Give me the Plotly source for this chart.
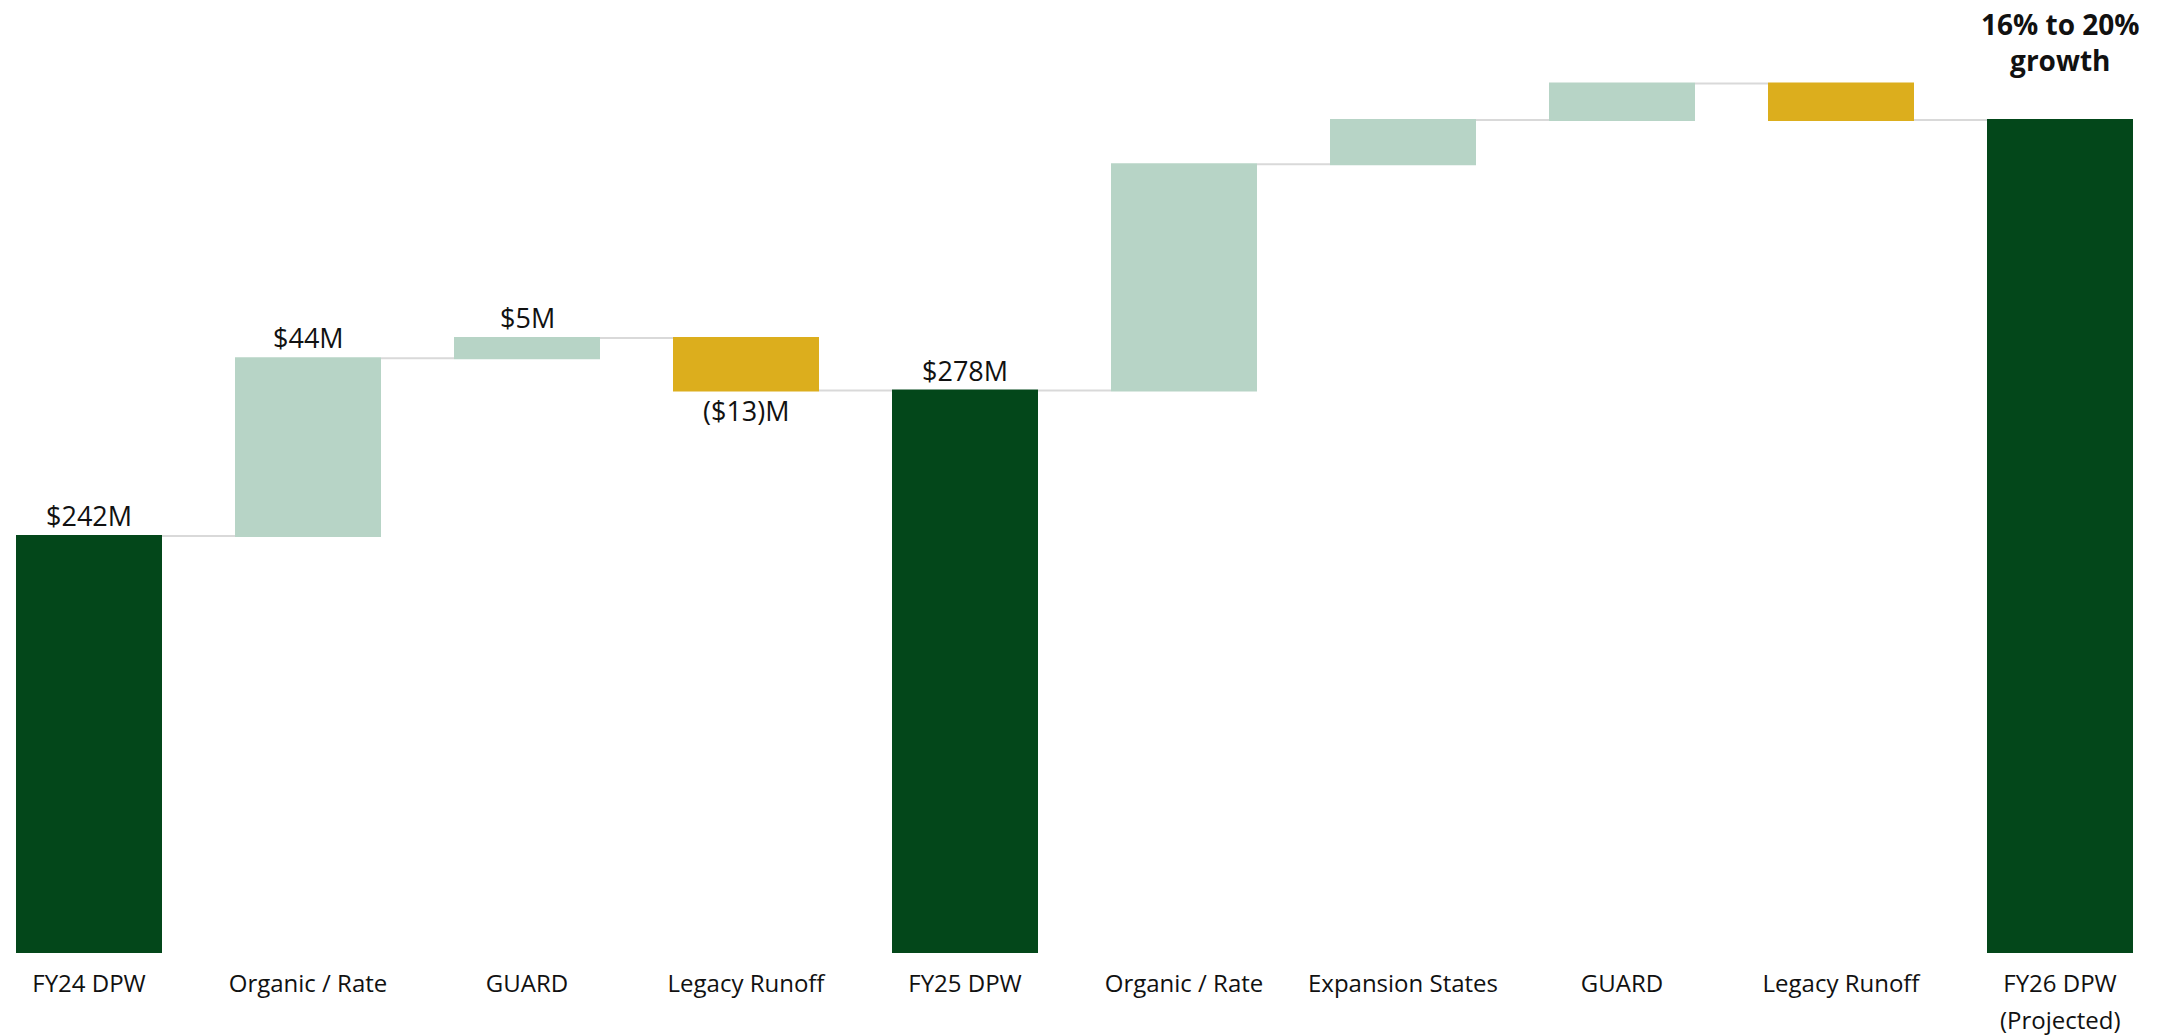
import plotly.graph_objects as go

categories = ["FY24 DPW", "Organic / Rate", "GUARD", "Legacy Runoff", "FY25 DPW",
              "Organic / Rate", "Expansion States", "GUARD", "Legacy Runoff",
              "FY26 DPW<br>(Projected)"]
measures = ["absolute", "relative", "relative", "relative", "total",
            "relative", "relative", "relative", "relative", "total"]
values = [242, 44, 5, -13, 0, 56, 11, 9, -9, 0]
value_labels = ["$242M", "$44M", "$5M", "($13)M", "$278M", "", "", "", "", ""]
growth_label = "<b>16% to 20%<br>growth</b>"

DARK = "#03471A"
LIGHT = "#B7D4C6"
GOLD = "#DCAE1D"
FONT = "Open Sans"
TXT = "#111111"

x = list(range(len(categories)))

fig = go.Figure(go.Waterfall(
    x=x,
    y=values,
    measure=measures,
    increasing=dict(marker=dict(color=LIGHT)),
    decreasing=dict(marker=dict(color=GOLD)),
    totals=dict(marker=dict(color=DARK)),
    connector=dict(line=dict(color="#D9D9D9", width=2)),
    textposition="none",
    hoverinfo="skip",
))

# compute bar extents from data for labels
running = 0
tops, bottoms = [], []
for m, v in zip(measures, values):
    if m == "absolute":
        start, end = 0, v
        running = v
    elif m == "total":
        start, end = 0, running
    else:
        start, end = running, running + v
        running = end
    tops.append(max(start, end))
    bottoms.append(min(start, end))

annotations = []
for i, (lab, m, v) in enumerate(zip(value_labels, measures, values)):
    if not lab:
        continue
    if m == "relative" and v < 0:
        annotations.append(dict(x=x[i], y=bottoms[i], text=lab, showarrow=False,
                                yanchor="top", xanchor="center", yshift=1,
                                font=dict(family=FONT, size=27, color=TXT)))
    else:
        annotations.append(dict(x=x[i], y=tops[i], text=lab, showarrow=False,
                                yanchor="bottom", xanchor="center", yshift=0,
                                font=dict(family=FONT, size=27, color=TXT)))

annotations.append(dict(x=x[-1], y=tops[-1], text=growth_label, showarrow=False,
                        yanchor="bottom", xanchor="center", yshift=39,
                        font=dict(family=FONT, size=28, color=TXT)))

# tick labels: first line on the axis, extra lines as annotations with wider spacing
ticktext = []
for i, c in enumerate(categories):
    parts = c.split("<br>")
    ticktext.append(parts[0])
    for k, extra in enumerate(parts[1:], start=1):
        annotations.append(dict(x=x[i], y=0, yref="paper", text=extra, showarrow=False,
                                yanchor="middle", xanchor="center", yshift=-29 - 37 * k,
                                font=dict(family=FONT, size=24, color=TXT)))

fig.update_layout(
    width=2156, height=1028,
    margin=dict(l=8, r=31, t=0, b=83),
    paper_bgcolor="white", plot_bgcolor="white",
    showlegend=False,
    waterfallgap=1/3,
    font=dict(family=FONT, color=TXT),
    annotations=annotations,
    xaxis=dict(
        range=[-1/3, len(categories) - 1 + 1/3],
        tickmode="array", tickvals=x, ticktext=ticktext,
        showgrid=False, zeroline=False, showline=False, ticks="",
        tickfont=dict(family=FONT, size=24, color=TXT),
        ticklabelstandoff=14,
    ),
    yaxis=dict(range=[138.8, 372.7], visible=False, showgrid=False, zeroline=False),
)

fig.write_html("out.html")
